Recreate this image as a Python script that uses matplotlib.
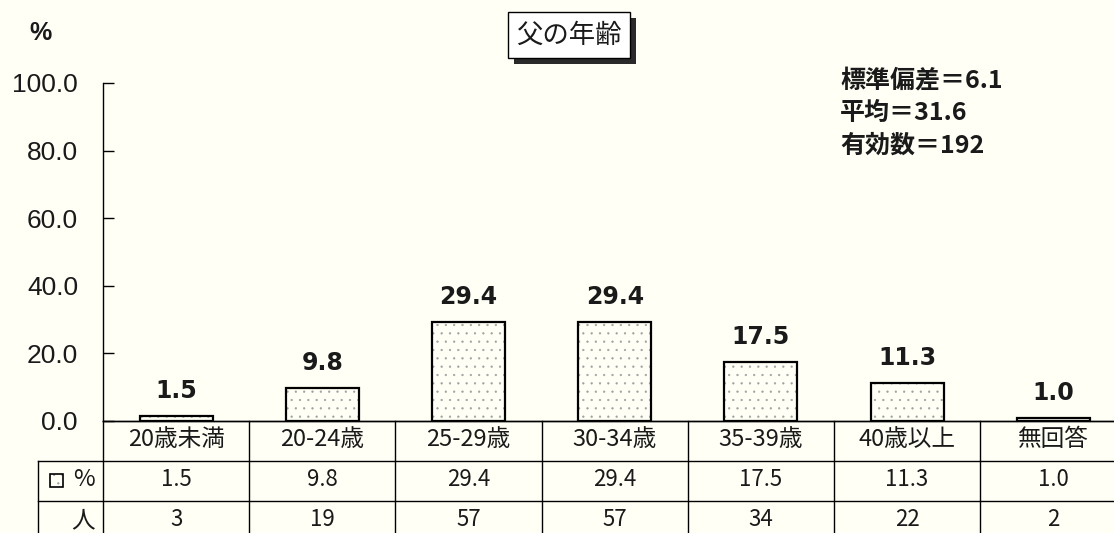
import matplotlib
matplotlib.use("Agg")
import matplotlib.pyplot as plt
from matplotlib.patches import Rectangle
from matplotlib.lines import Line2D

plt.rcParams['font.family'] = ['Noto Sans CJK JP', 'DejaVu Sans']
plt.rcParams['hatch.linewidth'] = 0.4

# data
categories = ['20歳未満', '20-24歳', '25-29歳', '30-34歳', '35-39歳', '40歳以上', '無回答']
percent = [1.5, 9.8, 29.4, 29.4, 17.5, 11.3, 1.0]
people = [3, 19, 57, 57, 34, 22, 2]
yticks = [0, 20, 40, 60, 80, 100]
title = '父の年齢'
stats = ['標準偏差＝6.1', '平均＝31.6', '有効数＝192']

W, H = 1114, 533
bg = '#fffff6'
ink = '#1a1a1a'
dots = '#a0a0a0'
fig = plt.figure(figsize=(W / 100, H / 100), dpi=100, facecolor=bg)

def fx(x):
    return x / W

def fy(y):
    return 1 - y / H

colw = 146.2
x0, y0, ytop = 103, 421, 83
right = -0.5 + (W - x0) / colw

ax = fig.add_axes([fx(x0), fy(y0), 1 - fx(x0), (y0 - ytop) / H])
ax.set_facecolor('none')
ax.set_xlim(-0.5, right)
ax.set_ylim(0, 100)

xs = list(range(len(categories)))
# dotted fill first (hatch takes the edge colour), then the black outline
ax.bar(xs, percent, width=0.5, facecolor=bg, edgecolor=dots,
       linewidth=0, hatch='..', zorder=3)
ax.bar(xs, percent, width=0.5, fill=False, edgecolor='black',
       linewidth=1.6, zorder=4)
for x, v in zip(xs, percent):
    ax.annotate(f'{v:.1f}', (x, v), xytext=(0, 9), textcoords='offset points',
                ha='center', va='bottom', fontsize=17, fontweight='bold',
                family='DejaVu Sans', color=ink)

for s in ['top', 'right']:
    ax.spines[s].set_visible(False)
ax.spines['left'].set_linewidth(1.0)
ax.spines['bottom'].set_linewidth(1.0)
ax.set_yticks(yticks)
ax.set_yticklabels([f'{t:.1f}' for t in yticks], fontsize=19,
                   family=['Liberation Sans', 'DejaVu Sans'], color=ink)
ax.tick_params(axis='y', direction='in', length=8, width=1.0, pad=18)
ax.set_xticks([])

# table under the chart, x in category units, y in image rows
tab = fig.add_axes([fx(x0), 0, 1 - fx(x0), fy(y0)])
tab.set_xlim(-0.5, right)
tab.set_ylim(H, y0)
tab.axis('off')
lw = 1.0
xl = -0.5 - (x0 - 38) / colw
rows = [y0, 461, 501]
tab.add_line(Line2D([-0.5, right], [rows[0], rows[0]], color='black', lw=lw, clip_on=False))
for r in rows[1:]:
    tab.add_line(Line2D([xl, right], [r, r], color='black', lw=lw, clip_on=False))
tab.add_line(Line2D([xl, xl], [rows[1], H], color='black', lw=lw, clip_on=False))
for i in range(len(categories) + 1):
    tab.add_line(Line2D([i - 0.5, i - 0.5], [y0, H], color='black', lw=lw, clip_on=False))

for x, c, p, n in zip(xs, categories, percent, people):
    tab.text(x, 440, c, ha='center', va='center', fontsize=17, color=ink)
    tab.text(x, 480, f'{p:.1f}', ha='center', va='center', fontsize=16, color=ink)
    tab.text(x, 519, str(n), ha='center', va='center', fontsize=16, color=ink)

# legend swatch and row labels
sw = (xl + 12 / colw, 474)
tab.add_patch(Rectangle(sw, 13 / colw, 13, facecolor=bg, edgecolor=dots,
                        lw=0, hatch='..', clip_on=False))
tab.add_patch(Rectangle(sw, 13 / colw, 13, fill=False, edgecolor='black',
                        lw=1.2, clip_on=False))
tab.text(-0.5 - 8 / colw, 480, '%', ha='right', va='center', fontsize=17, color=ink)
tab.text(-0.5 - 8 / colw, 521, '人', ha='right', va='center', fontsize=17, color=ink)

# axis unit
fig.text(fx(40), fy(33), '%', ha='center', va='center', fontsize=18,
         family=['Liberation Sans', 'DejaVu Sans'], fontweight='bold', color=ink)

# title box with drop shadow
bx, by, bw, bh = 508, 12, 122, 46
fig.patches.append(Rectangle((fx(bx + 6), fy(by + bh + 6)), bw / W, bh / H,
                             transform=fig.transFigure, facecolor='#2a2a2a',
                             edgecolor='none', zorder=1))
fig.patches.append(Rectangle((fx(bx), fy(by + bh)), bw / W, bh / H,
                             transform=fig.transFigure, facecolor='white',
                             edgecolor='black', lw=1.0, zorder=2))
fig.text(fx(bx + bw / 2), fy(by + bh / 2), title, ha='center', va='center',
         fontsize=19, color=ink, zorder=3)

for i, s in enumerate(stats):
    fig.text(fx(840), fy(80 + i * 33), s, ha='left', va='center', fontsize=18,
             fontweight='bold', color=ink)

fig.savefig('out.png', dpi=100, facecolor=bg)
